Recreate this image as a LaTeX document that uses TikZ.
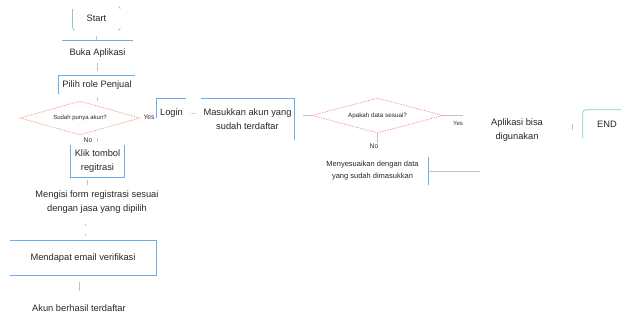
\documentclass[tikz,border=0pt]{standalone}
\usepackage{fontspec}
\setmainfont{Liberation Sans}
\usetikzlibrary{shapes.geometric}

\definecolor{boxblue}{RGB}{105,175,240}
\definecolor{startgreen}{RGB}{130,210,165}
\definecolor{diared}{RGB}{240,130,110}
\definecolor{conngray}{RGB}{195,195,195}

\tikzset{
  lbl/.style={font=\fontsize{9.3}{14}\selectfont, align=center, text=black!85, inner sep=0pt},
  note/.style={font=\fontsize{6.8}{8}\selectfont, text=black!80, inner sep=0pt},
  choice/.style={diamond, aspect=3.6, draw=diared, densely dotted, line width=0.7pt, inner sep=0pt,
    font=\fontsize{6}{7}\selectfont, text=black!85},
  edgeblue/.style={draw=boxblue, line width=0.9pt},
  edgegreen/.style={draw=startgreen, line width=0.7pt},
  conn/.style={draw=conngray, line width=0.5pt},
}

\begin{document}
\begin{tikzpicture}[x=1pt,y=-1pt]
\useasboundingbox (0,0) rectangle (621,320);

% left column
\node[lbl, minimum width=47pt, minimum height=23pt] (start) at (96.5,18.5) {Start};
\node[lbl, minimum width=71pt, minimum height=24pt] (buka) at (97.5,53) {Buka Aplikasi};
\node[lbl, minimum width=76pt, minimum height=18pt] (pilih) at (97,85) {Pilih role Penjual};
\node[choice, minimum width=120pt, minimum height=34pt] (sudah) at (80,118) {Sudah punya akun?};
\node[lbl, minimum width=53pt, minimum height=32pt] (klik) at (97.5,161) {Klik tombol\\regitrasi};
\node[lbl] (isi) at (97,202) {Mengisi form registrasi sesuai\\dengan jasa yang dipilih};
\node[lbl, minimum width=146pt, minimum height=34pt] (email) at (83,258) {Mendapat email verifikasi};
\node[lbl] (akun) at (79,308) {Akun berhasil terdaftar};

% login row
\node[lbl, minimum width=29pt, minimum height=28pt] (login) at (171.5,113) {Login};
\node[lbl, minimum width=93pt, minimum height=41pt] (masuk) at (247.5,119.5) {Masukkan akun yang\\sudah terdaftar};
\node[choice, minimum width=131pt, minimum height=35pt, font=\fontsize{6.3}{7}\selectfont] (cek) at (377.5,115.5) {Apakah data sesuai?};
\node[lbl, font=\fontsize{7.5}{12}\selectfont, minimum width=111pt, minimum height=28pt] (sesuai) at (372.5,171) {Menyesuaikan dengan data\\yang sudah dimasukkan};
\node[lbl] (guna) at (517,130) {Aplikasi bisa\\digunakan};
\node[lbl, minimum width=48pt, minimum height=28pt] (end) at (607,124) {END};

% labels
\node[note, anchor=west] (yes1) at ([xshift=3pt,yshift=1pt]sudah.east) {Yes};
\node[note, anchor=north] (no1) at ([xshift=8pt,yshift=-2pt]sudah.south) {No};
\node[note, font=\fontsize{6}{7}\selectfont] (yes2) at (458,123) {Yes};
\node[note] (no2) at (374,146) {No};

% partial frames
\draw[edgegreen] (start.north west) ++(0,2) -- ++(0,19);
\draw[edgegreen, rounded corners=2pt] ([xshift=-2pt]start.north east) -- (start.north east) -- ([yshift=-2pt]start.north east);
\draw[edgegreen, rounded corners=2pt] ([yshift=2pt]start.south east) -- (start.south east) -- ([xshift=-2pt]start.south east);
\draw[edgegreen, rounded corners=2pt] ([yshift=2pt]start.south west) -- (start.south west) -- ([xshift=2pt]start.south west);
\draw[edgeblue] (buka.north west) -- (buka.north east);
\draw[edgeblue] (pilih.south west) -- (pilih.north west) -- (pilih.north east);
\draw[edgeblue] (klik.north west) -- (klik.south west) -- (klik.south east) -- (klik.north east);
\draw[edgeblue] (email.north west) -- (email.north east) -- (email.south east) -- (email.south west);
\draw[edgeblue] ([yshift=-19pt]login.north west) -- (login.north west) -- (login.north east);
\draw[edgeblue] (masuk.north west) -- (masuk.north east) -- (masuk.south east);
\draw[edgeblue] (sesuai.north east) -- (sesuai.south east);
\draw[edgegreen, rounded corners=3pt] (end.south west) -- (end.north west) -- (end.north east);

% connectors
\coordinate (sesuaiout) at (480,171);
\draw[conn, shorten <=6pt, shorten >=1pt] (start.south) -- (start.south |- buka.north);
\draw[conn, shorten <=-2pt, shorten >=5pt] (buka.south) -- (buka.south |- pilih.north);
\draw[conn, shorten <=3pt] (pilih.south) -- (pilih.south |- sudah.north);
\draw[conn, shorten <=3pt, shorten >=3pt] (sudah.south -| klik.north) -- (klik.north);
\draw[conn, shorten <=3pt, shorten >=5pt] ([xshift=-10pt]klik.south) -- ([xshift=-10pt]klik.south |- isi.north);
\draw[conn, shorten <=10pt, shorten >=1pt, dash pattern=on 2pt off 8pt] ([xshift=2pt]email.north |- isi.south) -- ([xshift=2pt]email.north);
\draw[conn, shorten <=7pt, shorten >=13pt] (email.south -| akun.north) -- (akun.north);
\draw[conn, densely dotted, shorten <=4pt, shorten >=5pt] (login.east) -- (login.east -| masuk.west);
\draw[conn, shorten <=9pt] (masuk.east |- cek.west) -- (cek.west);
\draw[conn] (cek.east) -- (cek.east -| yes2.east);
\draw[conn] (cek.south) -- (cek.south |- no2.north);
\draw[conn] (sesuai.east) -- (sesuaiout);
\draw[conn] ([xshift=-11pt]end.west) -- ([xshift=-11pt,yshift=-6pt]end.west);
\end{tikzpicture}
\end{document}
